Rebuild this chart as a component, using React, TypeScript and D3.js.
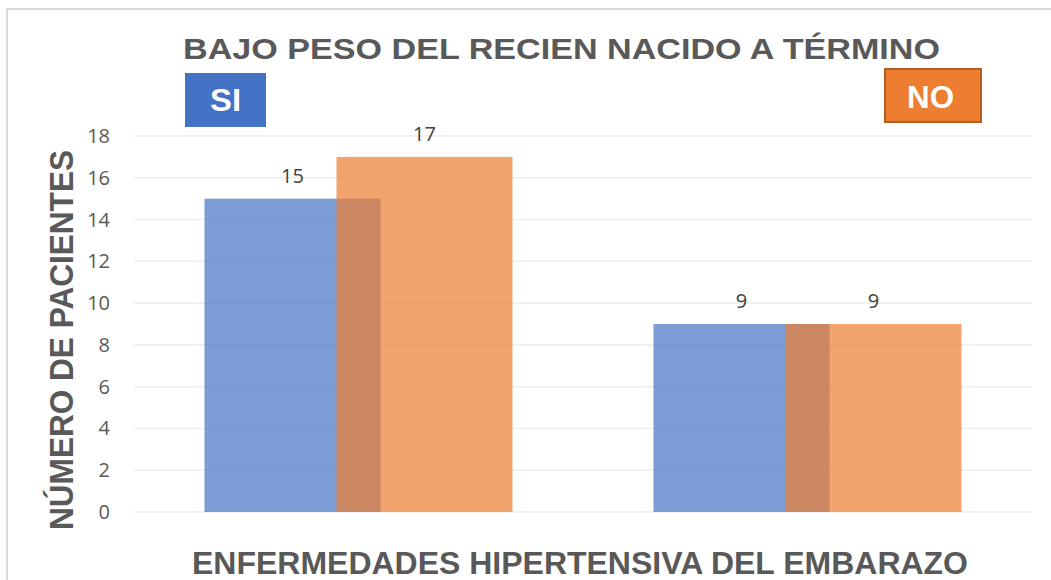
import * as d3 from "d3";

const categories = ["SI_NO_1", "SI_NO_2"];
const seriesNames = ["SI", "NO"];
const siValues = [15, 9];
const noValues = [17, 9];
const yTicks = [0, 2, 4, 6, 8, 10, 12, 14, 16, 18];

const W = 1051;
const H = 580;
const BLUE = "#4472C4";
const ORANGE = "#ED7D31";
const GRAY = "#595959";
const FONT = "'Liberation Sans', Arial, sans-serif";
const LABEL_FONT = "'Open Sans', 'Noto Sans', sans-serif";

export default function App() {
  const x = d3.scaleBand().domain(categories).range([134, 1032]);
  const y = d3.scaleLinear().domain([0, 18]).range([512, 136]);

  // two overlapping bars per category (25% overlap)
  const barW = 176;
  const step = 132;
  const groupW = step + barW;

  const series = [
    { name: seriesNames[0], values: siValues, color: BLUE, off: 0 },
    { name: seriesNames[1], values: noValues, color: ORANGE, off: step },
  ];

  return (
    <svg
      width={W}
      height={H}
      style={{ position: "absolute", left: 0, top: 0, background: "#fff" }}
    >
      {/* chart border */}
      <rect x={7} y={9} width={W} height={H} fill="#fff" stroke="#D9D9D9" strokeWidth={2} />

      {/* gridlines */}
      {yTicks.map((t) => (
        <line
          key={t}
          x1={134}
          x2={1032}
          y1={y(t)}
          y2={y(t)}
          stroke="#EDEDED"
          strokeWidth={1.5}
        />
      ))}

      {/* y tick labels */}
      {yTicks.map((t) => (
        <text
          key={"l" + t}
          x={110}
          y={y(t) + 7}
          textAnchor="end"
          fontFamily={LABEL_FONT}
          fontSize={20}
          fill={GRAY}
        >
          {t}
        </text>
      ))}

      {/* bars */}
      {series.map((s) =>
        categories.map((c, i) => {
          const bx = x(c)! + x.bandwidth() / 2 - groupW / 2 + s.off;
          return (
            <g key={s.name + c}>
              <rect
                x={bx}
                y={y(s.values[i])}
                width={barW}
                height={y(0) - y(s.values[i])}
                fill={s.color}
                fillOpacity={0.7}
              />
              <text
                x={bx + barW / 2}
                y={y(s.values[i]) - 16}
                textAnchor="middle"
                fontFamily={LABEL_FONT}
                fontSize={20}
                fill="#404040"
              >
                {s.values[i]}
              </text>
            </g>
          );
        })
      )}

      {/* title */}
      <text
        x={183}
        y={58.5}
        fontFamily={FONT}
        fontWeight="bold"
        fontSize={29.5}
        fill={GRAY}
        textLength={757}
        lengthAdjust="spacingAndGlyphs"
      >
        BAJO PESO DEL RECIEN NACIDO A TÉRMINO
      </text>

      {/* legend-like boxes */}
      <rect x={185} y={73} width={81} height={54} fill={BLUE} />
      <text
        x={210}
        y={111}
        fontFamily={FONT}
        fontWeight="bold"
        fontSize={31}
        fill="#fff"
        textLength={31}
        lengthAdjust="spacingAndGlyphs"
      >
        {seriesNames[0]}
      </text>
      <rect x={885} y={69} width={96} height={53} fill={ORANGE} stroke="#B25F24" strokeWidth={2} />
      <text
        x={907}
        y={108}
        fontFamily={FONT}
        fontWeight="bold"
        fontSize={31}
        fill="#fff"
        textLength={47}
        lengthAdjust="spacingAndGlyphs"
      >
        {seriesNames[1]}
      </text>

      {/* y axis title */}
      <text
        transform="translate(73,530) rotate(-90)"
        fontFamily={FONT}
        fontWeight="bold"
        fontSize={33}
        fill={GRAY}
        textLength={380}
        lengthAdjust="spacingAndGlyphs"
      >
        NÚMERO DE PACIENTES
      </text>

      {/* x axis title */}
      <text
        x={192}
        y={574}
        fontFamily={FONT}
        fontWeight="bold"
        fontSize={30.5}
        fill={GRAY}
        textLength={776}
        lengthAdjust="spacingAndGlyphs"
      >
        ENFERMEDADES HIPERTENSIVA DEL EMBARAZO
      </text>
    </svg>
  );
}
